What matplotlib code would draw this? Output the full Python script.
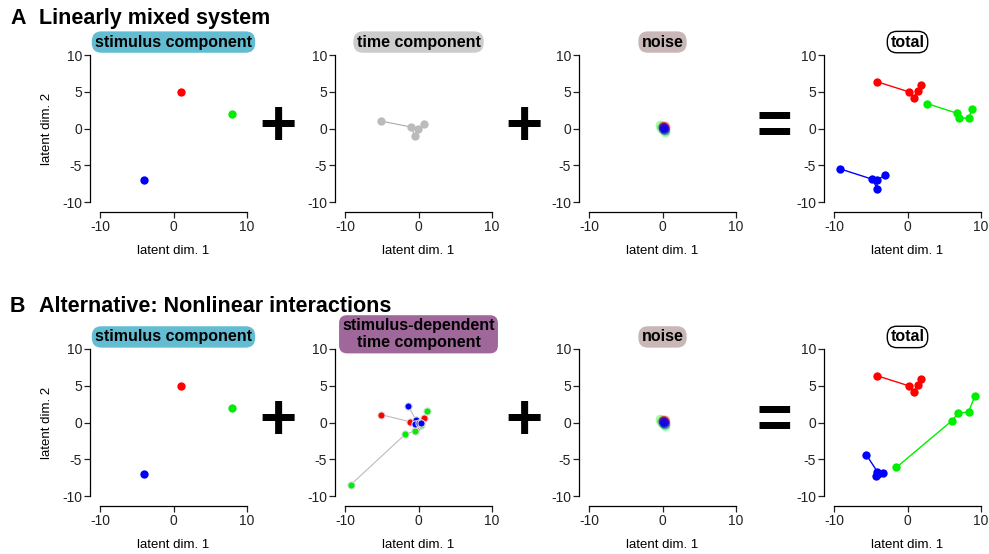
import matplotlib
matplotlib.use("Agg")
import matplotlib.pyplot as plt
import numpy as np

plt.rcParams['font.family'] = ['Liberation Sans', 'DejaVu Sans']
plt.rcParams['axes.unicode_minus'] = False

W, H = 989, 554

# colours of the three stimuli
stim_colors = ["#ff0000", "#00ee00", "#0000ff"]

# stimulus component (same in both rows), one point per stimulus
stim_x = [1.0, 8.0, -4.0]
stim_y = [5.0, 2.0, -7.0]

# A: time component shared by all stimuli
time_x = [-5.05, -1.0, -0.5, -0.1, 0.75]
time_y = [1.0, 0.2, -1.0, -0.05, 0.55]

# noise (red, green, blue clouds around the origin)
noise_x = [[0.35, 0.2, 0.1, 0.3, 0.0],
           [-0.4, 0.35, 0.0, 0.2, -0.2],
           [0.1, 0.25, 0.0, 0.3, 0.15]]
noise_y = [[0.3, 0.15, 0.35, 0.05, 0.2],
           [0.45, -0.5, 0.3, -0.25, 0.1],
           [0.0, 0.1, 0.25, -0.15, 0.05]]

# A: totals (red, green, blue)
totA_x = [[-4.1, 0.15, 0.85, 1.45, 1.9],
          [2.65, 6.8, 7.05, 8.3, 8.8],
          [-9.15, -4.8, -4.1, -4.2, -3.0]]
totA_y = [[6.35, 5.0, 4.2, 5.15, 5.95],
          [3.4, 2.05, 1.45, 1.4, 2.65],
          [-5.5, -6.9, -8.2, -7.05, -6.3]]

# B: stimulus-dependent time component (red, green, blue)
timeB_x = [[-5.05, -1.1, -0.4, 0.1, 0.8],
           [-9.2, -1.8, -0.5, 0.3, 1.2],
           [-1.4, -0.3, -0.5, 0.0, 0.4]]
timeB_y = [[1.05, 0.1, -0.9, -0.1, 0.65],
           [-8.45, -1.6, -1.15, -0.4, 1.55],
           [2.2, 0.3, -0.2, 0.0, -0.1]]

# B: totals (red, green, blue)
totB_x = [[-4.1, 0.15, 0.85, 1.45, 1.9],
          [-1.5, 6.0, 6.9, 8.3, 9.2],
          [-5.6, -4.1, -4.25, -4.0, -3.3]]
totB_y = [[6.35, 5.0, 4.2, 5.15, 5.95],
          [-6.1, 0.2, 1.25, 1.45, 3.65],
          [-4.4, -6.7, -7.3, -7.0, -6.85]]

ticks_x = [-10, 0, 10]
ticks_y = [-10, -5, 0, 5, 10]

fig = plt.figure(figsize=(W / 100, H / 100), dpi=100)

col_left = [100, 345, 589, 834]  # pixel left edge of data area
row_top = [55, 349]               # pixel top edge of data area
size = 147


def make_axes(col, row):
    l = col_left[col] / W
    b = 1 - (row_top[row] + size) / H
    ax = fig.add_axes([l, b, size / W, size / H])
    ax.set_xlim(-10, 10)
    ax.set_ylim(-10, 10)
    for s in ["top", "right"]:
        ax.spines[s].set_visible(False)
    ax.spines["left"].set_position(("outward", 7))
    ax.spines["bottom"].set_position(("outward", 7))
    ax.spines["left"].set_bounds(-10, 10)
    ax.spines["bottom"].set_bounds(-10, 10)
    for s in ["left", "bottom"]:
        ax.spines[s].set_linewidth(0.9)
    ax.set_xticks(ticks_x)
    ax.set_yticks(ticks_y)
    ax.tick_params(labelsize=10, length=4, width=0.9, pad=2, colors="#222222")
    ax.set_xlabel("latent dim. 1", fontsize=9.5, va="center")
    ax.xaxis.set_label_coords(0.5, -0.33)
    if col == 0:
        ax.set_ylabel("latent dim. 2", fontsize=9.5, va="center")
        ax.yaxis.set_label_coords(-0.36, 0.5)
    ax.patch.set_alpha(0)
    return ax


def box_title(ax, text, face, y=1.088, edge=None, rounding=0.6):
    ax.text(0.5, y, text, transform=ax.transAxes, ha="center", va="center",
            fontsize=11.5, fontweight="bold", linespacing=1.15,
            bbox=dict(boxstyle=f"round,pad=0.2,rounding_size={rounding}",
                      facecolor=face, edgecolor=edge if edge else face,
                      linewidth=1.0 if edge else 0))


headings = [("A", "Linearly mixed system"), ("B", "Alternative: Nonlinear interactions")]
head_base = [24, 312]

for row in range(2):
    base = 1 - head_base[row] / H
    fig.text(10 / W, base, headings[row][0], fontsize=15.5, fontweight="bold", va="baseline")
    fig.text(39 / W, base, headings[row][1], fontsize=15.5, fontweight="bold", va="baseline")

    # stimulus component
    ax = make_axes(0, row)
    for c in range(3):
        ax.plot(stim_x[c], stim_y[c], "o", color=stim_colors[c], ms=6, mec="none")
    box_title(ax, "stimulus component", "#62bdd2", y=1.088 if row == 0 else 1.082)

    # time component
    ax = make_axes(1, row)
    if row == 0:
        ax.plot(time_x, time_y, "-o", color="#aaaaaa", lw=0.8, ms=6,
                mfc="#bbbbbb", mec="none")
        box_title(ax, "time component", "#cccccc")
    else:
        for c in range(3):
            ax.plot(timeB_x[c], timeB_y[c], "-", color="#bbbbbb", lw=0.8, zorder=2)
        for c in range(3):
            ax.plot(timeB_x[c], timeB_y[c], "o", color=stim_colors[c], ms=5.2,
                    mec="#dddddd", mew=0.8, zorder=3)
        box_title(ax, "stimulus-dependent\ntime component", "#a0679b", y=1.10, rounding=0.5)

    # noise
    ax = make_axes(2, row)
    for c in [1, 0, 2]:
        ax.plot(noise_x[c], noise_y[c], "o", color=stim_colors[c], ms=7, mec="none", alpha=0.35)
    box_title(ax, "noise", "#c9b7b7", y=1.088 if row == 0 else 1.082)

    # total
    ax = make_axes(3, row)
    tx = totA_x if row == 0 else totB_x
    ty = totA_y if row == 0 else totB_y
    for c in range(3):
        ax.plot(tx[c], ty[c], "-o", color=stim_colors[c], lw=1.0, ms=6, mec="none")
    box_title(ax, "total", "white", edge="black", y=1.088 if row == 0 else 1.082)

    # operators between panels
    yc = 1 - (row_top[row] + 73.5) / H
    fig.text(278.5 / W, yc, "+", fontsize=46, fontweight="bold", ha="center", va="center")
    fig.text(523.5 / W, yc, "+", fontsize=46, fontweight="bold", ha="center", va="center")
    fig.text(774 / W, yc, "=", fontsize=44, fontweight="bold", ha="center", va="center")

fig.savefig("out.png", dpi=100)
